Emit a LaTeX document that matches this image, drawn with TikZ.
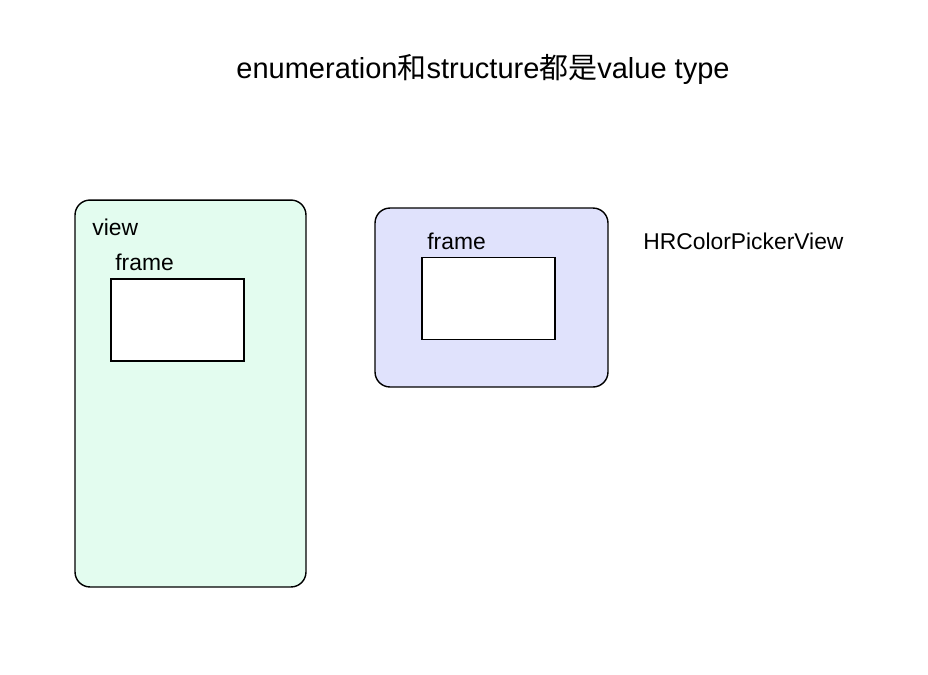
\documentclass[tikz,border=0pt]{standalone}
\usepackage{fontspec}
\setmainfont{Liberation Sans}
\newfontfamily\cjk{Noto Sans CJK SC}
\usetikzlibrary{positioning}
\definecolor{viewgreen}{HTML}{E3FCEF}
\definecolor{pickerblue}{HTML}{E0E2FC}
\tikzset{
  x=0.02cm, y=-0.02cm,
  every node/.style={font=\fontsize{13}{15}\selectfont, inner sep=0pt},
  box/.style={draw, line width=0.8pt, rounded corners=0.3cm},
  framebox/.style={draw, line width=0.8pt, fill=white,
    minimum width=2.66cm, minimum height=1.64cm},
  label text/.style={anchor=base west},
}

\begin{document}
\begin{tikzpicture}
      \useasboundingbox (0,0) rectangle (928,674);
      \node (title) at (483,78) [anchor=base, font=\fontsize{16.5}{19}\selectfont]
            {enumeration{\cjk 和}structure{\cjk 都是}value type};

      \node[box, fill=viewgreen, minimum width=4.62cm, minimum height=7.74cm] (view) at (190.5,393.5) {};
      \node[label text] (viewlbl) at (92,235) {view};
      \node[framebox] (f1) at (177.5,320) {};
      \node[label text] (f1lbl) at (115,270) {frame};

      \node[box, fill=pickerblue, minimum width=4.66cm, minimum height=3.58cm] (picker) at (491.5,297.5) {};
      \node[framebox] (f2) at (488.5,298.5) {};
      \node[label text] (f2lbl) at (427,249) {frame};
      \node[label text] (pickerlbl) at (643,249) {HRColorPickerView};
    \end{tikzpicture}
\end{document}
